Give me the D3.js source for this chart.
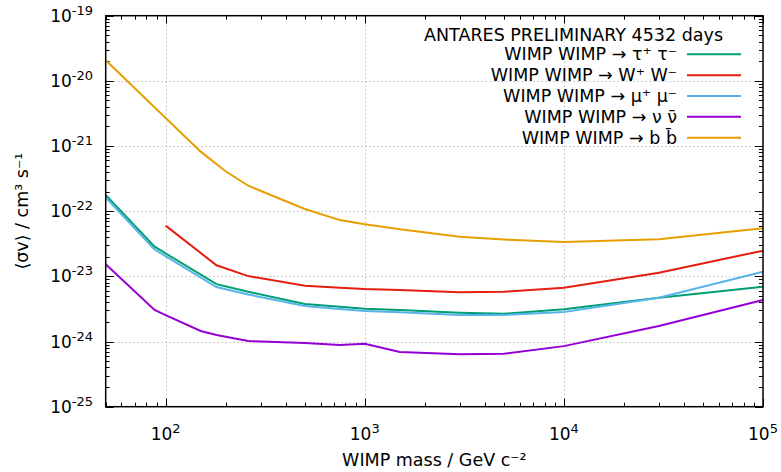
<!DOCTYPE html>
<html>
<head>
<meta charset="utf-8">
<script src="https://cdn.jsdelivr.net/npm/d3@7"></script>
<style>
  body { margin: 0; background: #fff; }
  text { font-family: "DejaVu Sans", sans-serif; fill: #000; }
</style>
</head>
<body>
<div id="chart"></div>
<script>
// masses (GeV) and limits <sigma v> (cm^3 s^-1)
const massTau = [50, 88, 180, 260, 500, 750, 1000, 1500, 3000, 5000, 10000, 30000, 100000];
const sigTau = [1.77e-22, 2.85e-23, 7.6e-24, 5.8e-24, 3.77e-24, 3.43e-24, 3.19e-24, 3.05e-24, 2.77e-24, 2.67e-24, 3.12e-24, 4.71e-24, 6.95e-24];

const massW = [100, 180, 260, 500, 750, 1000, 1500, 3000, 5000, 10000, 30000, 100000];
const sigW = [6.0e-23, 1.48e-23, 1.01e-23, 7.2e-24, 6.7e-24, 6.4e-24, 6.18e-24, 5.7e-24, 5.82e-24, 6.7e-24, 1.14e-23, 2.48e-23];

const massMu = [50, 88, 180, 260, 500, 750, 1000, 1500, 3000, 5000, 10000, 30000, 100000];
const sigMu = [1.62e-22, 2.58e-23, 6.87e-24, 5.27e-24, 3.51e-24, 3.16e-24, 2.95e-24, 2.81e-24, 2.55e-24, 2.55e-24, 2.84e-24, 4.71e-24, 1.18e-23];

const massNu = [50, 88, 100, 150, 180, 260, 500, 750, 1000, 1500, 3000, 5000, 10000, 30000, 100000];
const sigNu = [1.53e-23, 3.05e-24, 2.55e-24, 1.45e-24, 1.26e-24, 1.02e-24, 9.5e-25, 8.85e-25, 9.27e-25, 6.9e-25, 6.37e-25, 6.5e-25, 8.5e-25, 1.73e-24, 4.35e-24];

const massB = [50, 150, 200, 260, 500, 750, 1000, 1500, 3000, 5000, 10000, 30000, 100000];
const sigB = [2.07e-20, 8.2e-22, 4.1e-22, 2.46e-22, 1.08e-22, 7.3e-23, 6.3e-23, 5.3e-23, 4.06e-23, 3.68e-23, 3.37e-23, 3.7e-23, 5.47e-23];

const seriesNames = ["WIMP WIMP → τ⁺ τ⁻", "WIMP WIMP → W⁺ W⁻", "WIMP WIMP → μ⁺ μ⁻", "WIMP WIMP → ν ν̄", "WIMP WIMP → b b̄"];
const seriesColors = ["#009e73", "#e51e10", "#56b4e9", "#9400d3", "#e69f00"];
const legendTitle = "ANTARES PRELIMINARY 4532 days";

const xTickExp = [2, 3, 4, 5];
const yTickExp = [-25, -24, -23, -22, -21, -20, -19];

const series = [
  { m: massTau, s: sigTau },
  { m: massW, s: sigW },
  { m: massMu, s: sigMu },
  { m: massNu, s: sigNu },
  { m: massB, s: sigB }
];

const width = 781, height = 472;
const margin = { left: 105.7, right: 18, top: 15.7, bottom: 65.3 };

const svg = d3.select("#chart").append("svg")
  .attr("width", width).attr("height", height);

const x = d3.scaleLog().domain([50, 1e5]).range([margin.left, width - margin.right]);
const y = d3.scaleLog().domain([1e-25, 1e-19]).range([height - margin.bottom, margin.top]);

const x0 = x.range()[0], x1 = x.range()[1];
const y0 = y.range()[0], y1 = y.range()[1];

// grid
const grid = svg.append("g")
  .attr("stroke", "#a0a0a0")
  .attr("stroke-width", 1)
  .attr("stroke-dasharray", "1,3");
xTickExp.filter(e => e < 5).forEach(e => {
  grid.append("line")
    .attr("x1", Math.round(x(10 ** e)) + 0.5).attr("x2", Math.round(x(10 ** e)) + 0.5)
    .attr("y1", y0).attr("y2", y1);
});
yTickExp.filter(e => e > -25 && e < -19).forEach(e => {
  grid.append("line")
    .attr("y1", Math.round(y(10 ** e)) + 0.5).attr("y2", Math.round(y(10 ** e)) + 0.5)
    .attr("x1", x0).attr("x2", x1);
});

// ticks (mirrored on all four sides)
const ticks = svg.append("g").attr("stroke", "#000").attr("stroke-width", 1);
const xMinor = [], yMinor = [];
for (let e = 1; e <= 4; e++) for (let k = 2; k <= 9; k++) {
  const v = k * 10 ** e;
  if (v >= 50 && v <= 1e5) xMinor.push(v);
}
for (let e = -25; e < -19; e++) for (let k = 2; k <= 9; k++) yMinor.push(k * 10 ** e);

xMinor.forEach(v => {
  const px = Math.round(x(v)) + 0.5;
  ticks.append("line").attr("x1", px).attr("x2", px).attr("y1", y0).attr("y2", y0 - 4);
  ticks.append("line").attr("x1", px).attr("x2", px).attr("y1", y1).attr("y2", y1 + 4);
});
xTickExp.forEach(e => {
  const px = Math.round(x(10 ** e)) + 0.5;
  ticks.append("line").attr("x1", px).attr("x2", px).attr("y1", y0).attr("y2", y0 - 8);
  ticks.append("line").attr("x1", px).attr("x2", px).attr("y1", y1).attr("y2", y1 + 8);
});
yMinor.forEach(v => {
  const py = Math.round(y(v)) + 0.5;
  ticks.append("line").attr("y1", py).attr("y2", py).attr("x1", x0).attr("x2", x0 + 4);
  ticks.append("line").attr("y1", py).attr("y2", py).attr("x1", x1).attr("x2", x1 - 4);
});
yTickExp.forEach(e => {
  const py = Math.round(y(10 ** e)) + 0.5;
  ticks.append("line").attr("y1", py).attr("y2", py).attr("x1", x0).attr("x2", x0 + 8);
  ticks.append("line").attr("y1", py).attr("y2", py).attr("x1", x1).attr("x2", x1 - 8);
});

// tick labels
const fs = 17;
xTickExp.forEach(e => {
  const t = svg.append("text")
    .attr("x", x(10 ** e)).attr("y", y0 + 33)
    .attr("text-anchor", "middle")
    .style("font-size", fs + "px");
  t.append("tspan").text("10");
  t.append("tspan").attr("dy", -7).style("font-size", "13px").text(e);
});
yTickExp.forEach(e => {
  const t = svg.append("text")
    .attr("x", 93).attr("y", y(10 ** e) + 6)
    .attr("text-anchor", "end")
    .style("font-size", fs + "px");
  t.append("tspan").text("10");
  t.append("tspan").attr("dy", -7).style("font-size", "13px").text(e);
});

// axis titles
svg.append("text")
  .attr("x", (x0 + x1) / 2).attr("y", 466)
  .attr("text-anchor", "middle")
  .style("font-size", "17.5px")
  .text("WIMP mass / GeV c⁻²");
svg.append("text")
  .attr("transform", `translate(28,${(y0 + y1) / 2}) rotate(-90)`)
  .attr("text-anchor", "middle")
  .style("font-size", "17.5px")
  .text("⟨σv⟩ / cm³ s⁻¹");

// curves
const line = d3.line().x(d => x(d[0])).y(d => y(d[1]));
const curves = svg.append("g").attr("fill", "none").attr("stroke-width", 2);
series.forEach((s, i) => {
  curves.append("path")
    .datum(s.m.map((m, j) => [m, s.s[j]]))
    .attr("stroke", seriesColors[i])
    .attr("d", line);
});

// frame
svg.append("rect")
  .attr("x", x0).attr("y", y1)
  .attr("width", x1 - x0).attr("height", y0 - y1)
  .attr("fill", "none").attr("stroke", "#000").attr("stroke-width", 1.5);

// legend
const lg = svg.append("g").style("font-size", "17.5px");
lg.append("text")
  .attr("x", 723).attr("y", 41)
  .attr("text-anchor", "end")
  .text(legendTitle);
seriesNames.forEach((name, i) => {
  const cy = 54.3 + i * 20.85;
  lg.append("text")
    .attr("x", 677).attr("y", cy + 6)
    .attr("text-anchor", "end")
    .text(name);
  lg.append("line")
    .attr("x1", 687).attr("x2", 741)
    .attr("y1", cy).attr("y2", cy)
    .attr("stroke", seriesColors[i]).attr("stroke-width", 2);
});
</script>
</body>
</html>
